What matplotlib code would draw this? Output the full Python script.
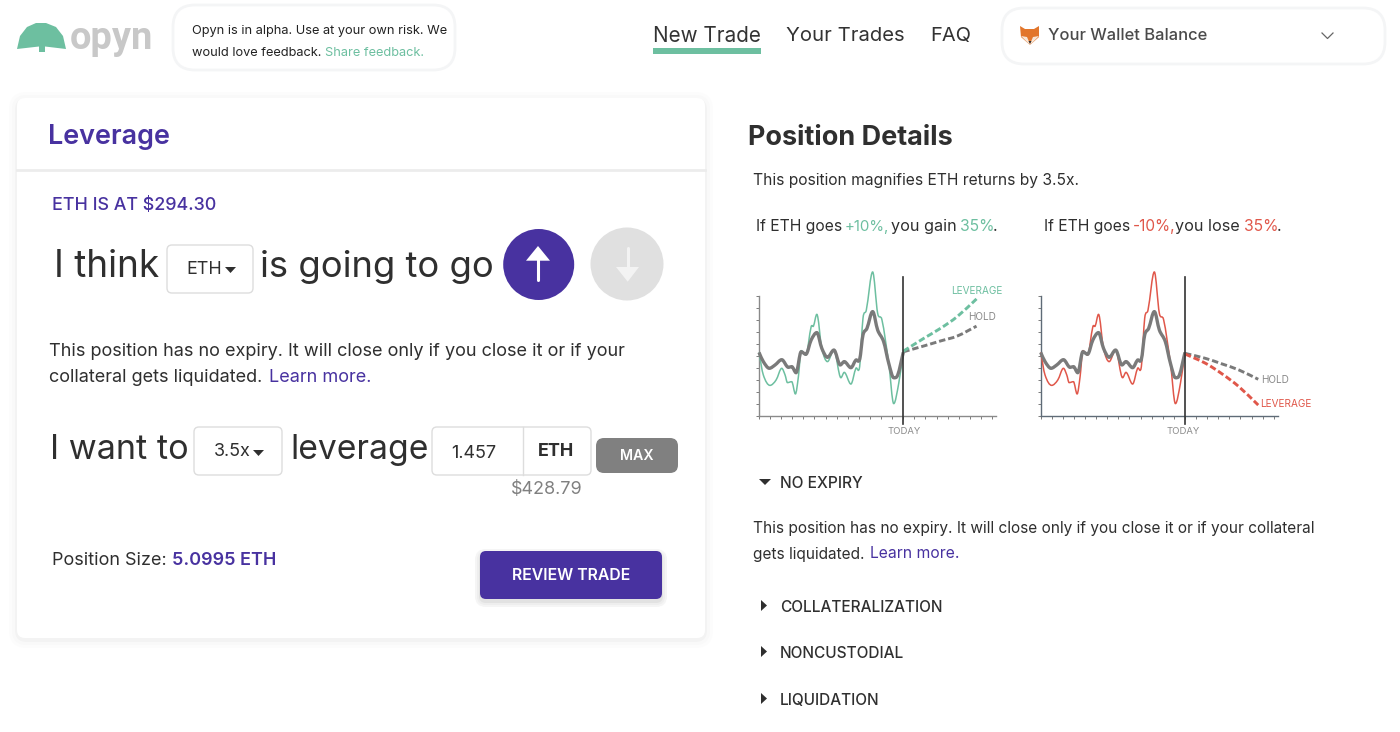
import matplotlib
matplotlib.use("Agg")
import matplotlib.pyplot as plt
from matplotlib.patches import FancyBboxPatch, Circle, Polygon, Rectangle, PathPatch
from matplotlib.path import Path

plt.rcParams['font.family'] = ['Inter', 'DejaVu Sans']

# ---- chart data (x: tick number, y: tick number) ----
hold_x = [0.0, 0.39, 0.93, 1.45, 2.05, 2.65, 2.95, 3.34, 3.8, 4.22, 4.7, 5.21, 5.66, 6.17, 6.75,
          7.32, 7.68, 8.28, 8.73, 9.07, 9.37, 9.73, 10.24, 10.69, 11.23, 11.69, 12.14, 12.5, 13.0]
hold_hist = [5.3, 4.53, 3.97, 4.25, 4.69, 4.05, 4.11, 3.6, 5.36, 5.14, 6.34, 6.96, 5.64, 4.89, 5.5,
             4.25, 4.53, 4.02, 4.66, 4.72, 6.76, 7.32, 8.72, 7.18, 6.2, 4.39, 3.18, 3.41, 5.3]
lev_x = [0.0, 0.39, 0.99, 1.54, 2.05, 2.35, 2.56, 2.95, 3.28, 3.55, 3.8, 4.22, 4.7, 4.91, 5.21, 5.66,
         6.17, 6.75, 7.38, 7.68, 8.28, 8.73, 9.07, 9.37, 9.67, 10.24, 10.69, 11.08, 11.69, 12.14, 12.59, 13.0]
lev_hist = [5.3, 3.41, 2.54, 2.99, 3.97, 3.41, 2.77, 2.85, 1.82, 3.27, 5.45, 5.08, 7.46, 7.51, 8.49, 5.64,
            4.53, 5.5, 3.18, 3.63, 2.65, 3.97, 4.11, 8.16, 8.85, 12.04, 8.58, 8.02, 4.39, 1.01, 2.71, 5.3]
future_x = [13.0, 14.85, 16.36, 17.86, 19.6]
up_lev = [5.4, 6.48, 7.32, 8.3, 9.78]
up_hold = [5.35, 5.84, 6.26, 6.67, 7.5]
down_lev = [5.17, 4.39, 3.49, 2.43, 0.89]
down_hold = [5.22, 4.8, 4.33, 3.83, 3.05]
x_ticks = list(range(0, 22))
y_ticks = list(range(0, 11))

GREEN = '#6dbfa0'
RED = '#e0574a'
GRAY = '#7a7a7a'
PURPLE = '#4832a0'
DARK = '#2f2f2f'
W, H = 1400, 732
DY = 2


def px(size):
    return size * 0.72


fig = plt.figure(figsize=(14, 7.32), dpi=100, facecolor='white')
ui = fig.add_axes([0, 0, 1, 1])
ui.set_xlim(0, W)
ui.set_ylim(H, 0)
ui.axis('off')


def text(x, y, s, size, color=DARK, weight='normal', ha='left', family=None):
    kw = {'family': family} if family else {}
    return ui.text(x, y + DY, s, fontsize=px(size), color=color, fontweight=weight, ha=ha, va='center', **kw)


def line_text(x, y, s, size, color=DARK):
    return ui.text(x, y, s, fontsize=px(size), color=color, ha='left', va='baseline')


def box(x0, y0, x1, y1, r, fc='white', ec='none', lw=1.0, z=2):
    p = FancyBboxPatch((x0 + r, y0 + r), x1 - x0 - 2 * r, y1 - y0 - 2 * r,
                       boxstyle=f'round,pad={r},rounding_size={r}', fc=fc, ec=ec, lw=lw, zorder=z)
    ui.add_patch(p)
    return p


def poly(points, fc, z=3):
    ui.add_patch(Polygon(points, closed=True, fc=fc, ec='none', zorder=z))


# ---- header ----
poly([(17, 49), (20, 36), (27, 27), (36, 23), (46, 23), (56, 27), (63, 36), (66, 49),
      (45, 46.5), (45, 52), (39, 52), (39, 46.5)], GREEN)
text(70, 36.5, 'opyn', 38, '#c8c8c8', 'bold', family=['Roboto', 'DejaVu Sans'])
box(173, 5, 455, 70, 22, ec='#f4f5f6', lw=2)
text(192, 29, 'Opyn is in alpha. Use at your own risk. We', 12.8, '#222222')
text(192, 51, 'would love feedback.', 12.8, '#222222')
text(325, 51, 'Share feedback.', 12.8, GREEN)
text(653, 34, 'New Trade', 20.7, '#333333')
ui.add_patch(Rectangle((653, 48), 108, 6, fc=GREEN, ec='none', zorder=3))
text(786, 34, 'Your Trades', 20.3, '#333333')
text(930, 34, 'FAQ', 20, '#333333')
box(1002, 8, 1385, 64, 22, ec='#f4f5f6', lw=2)
poly([(1020, 26), (1025, 29), (1034, 29), (1039, 26), (1039, 37), (1030, 45), (1021, 37)], '#e2762c')
poly([(1021, 36), (1027, 37), (1030, 44), (1033, 37), (1039, 36), (1030, 45)], '#f6e6d8', 4)
poly([(1028.5, 41), (1031.5, 41), (1030, 44)], '#33302e', 5)
text(1048, 34, 'Your Wallet Balance', 16.5, '#4a4a4a', 'medium')
ui.plot([1322, 1327.5, 1333], [33, 38.5, 33], color='#666666', lw=0.9)

# ---- left card ----
for grow, col in [(8, '#fcfcfc'), (5, '#f9f9f9'), (2, '#f3f3f3')]:
    box(17 - grow, 98 - grow + 2, 705 + grow, 638 + grow + 2, 10 + grow, fc=col, z=1)
box(17, 98, 705, 638, 8)
ui.plot([17, 705], [170, 170], color='#ececec', lw=2, zorder=3)
text(48.5, 135, 'Leverage', 27, PURPLE, 'semibold')
text(52, 203, 'ETH IS AT $294.30', 17.9, PURPLE, 'medium')

text(54, 265, 'I think', 37, DARK)
box(167, 245, 253, 293, 5, ec='#dddddd')
text(186, 268, 'ETH', 18, DARK)
poly([(225, 267), (236, 267), (230.5, 273)], DARK)
text(260, 265, 'is going to go', 36.4, DARK)
ui.add_patch(Circle((538.7, 264.5), 35.5, fc=PURPLE, ec='none', zorder=3))
ui.add_patch(Circle((627, 264), 36.5, fc='#e0e0e0', ec='none', zorder=3))
poly([(526, 260.7), (538, 246), (550, 260.7)], 'white', 4)
ui.plot([537.8, 537.8], [258, 280], color='white', lw=2.2, solid_capstyle='round', zorder=4)
poly([(616, 267), (627.7, 281.7), (639, 267)], '#f3f3f3', 4)
ui.plot([627.5, 627.5], [247.5, 270], color='#f3f3f3', lw=2.2, solid_capstyle='round', zorder=4)

text(49, 349, 'This position has no expiry. It will close only if you close it or if your', 18.1, DARK)
text(49, 376, 'collateral gets liquidated.', 18.1, DARK)
text(269, 376, 'Learn more.', 18.1, PURPLE)

text(50, 448, 'I want to', 34.2, DARK)
box(194, 427, 282, 475, 5, ec='#dddddd')
text(214, 450, '3.5x', 18, DARK)
poly([(253, 450), (264, 450), (258.5, 456)], DARK)
text(290, 448, 'leverage', 33.6, DARK)
box(432, 427, 591, 475, 5, ec='#dddddd')
ui.plot([522.5, 522.5], [427, 475], color='#dddddd', lw=1, zorder=3)
text(451, 451, '1.457', 18, DARK)
text(538, 449.5, 'ETH', 18, DARK, 'bold')
box(596, 438, 678, 473, 8, fc='#808080')
text(637, 454.5, 'MAX', 14.2, 'white', 'semibold', ha='center')
text(511, 487, '$428.79', 18, '#808080')
text(52, 558.5, 'Position Size:', 18, DARK)
text(172, 558.5, '5.0995 ETH', 18, PURPLE, 'semibold')
for grow, col in [(5, '#f5f5f5'), (3, '#eeeeee'), (1, '#e2e2e2')]:
    box(480 - grow, 551 - grow + 3, 662 + grow, 599 + grow + 3, 6 + grow, fc=col, z=3)
box(480, 551, 662, 599, 6, fc=PURPLE, z=4)
ui.text(571, 576, 'REVIEW TRADE', fontsize=px(15.8), color='white', fontweight='semibold',
        ha='center', va='center', zorder=5)

# ---- right column ----
text(748, 136, 'Position Details', 27, DARK, 'bold')
text(753, 178, 'This position magnifies ETH returns by 3.5x.', 15.6, DARK)
line_text(756, 231, 'If ETH goes', 15.7)
line_text(845, 231, '+10%,', 15.0, GREEN)
line_text(891, 231, 'you gain', 16.2)
line_text(960, 231, '35%', 15.7, GREEN)
line_text(993, 231, '.', 15.7)
line_text(1044, 231, 'If ETH goes', 15.7)
line_text(1133, 231, '-10%,', 15.4, RED)
line_text(1175, 231, 'you lose', 16.2)
line_text(1244, 231, '35%', 15.7, RED)
line_text(1277, 231, '.', 15.7)

poly([(759, 479), (771, 479), (765, 485)], DARK)
text(780, 482, 'NO EXPIRY', 15.5, DARK, 'medium')
text(753, 526, 'This position has no expiry. It will close only if you close it or if your collateral', 15.45, DARK)
text(753, 552, 'gets liquidated.', 15.45, DARK)
text(870, 552, 'Learn more.', 15.7, PURPLE)
for yy, lab in [(606, 'COLLATERALIZATION'), (652, 'NONCUSTODIAL'), (699, 'LIQUIDATION')]:
    poly([(761, yy - 6), (761, yy + 5), (767, yy - 0.5)], DARK)
    text(780, yy - 0.5, lab, 15.4, DARK, 'medium')


def smooth_path(xs, ys):
    """Bezier path through the read points (Catmull-Rom tangents, flattened at turning points)."""
    n = len(xs)
    tang = []
    for i in range(n):
        a, b = max(i - 1, 0), min(i + 1, n - 1)
        m = (ys[b] - ys[a]) / (xs[b] - xs[a])
        if 0 < i < n - 1 and (ys[i] - ys[a]) * (ys[b] - ys[i]) <= 0:
            m = 0.0
        tang.append(m)
    verts = [(xs[0], ys[0])]
    codes = [Path.MOVETO]
    for i in range(n - 1):
        d = (xs[i + 1] - xs[i]) / 3
        verts += [(xs[i] + d, ys[i] + tang[i] * d), (xs[i + 1] - d, ys[i + 1] - tang[i + 1] * d),
                  (xs[i + 1], ys[i + 1])]
        codes += [Path.CURVE4] * 3
    return Path(verts, codes)


def curve(ax, xs, ys, color, lw, z, ls='-'):
    ax.add_patch(PathPatch(smooth_path(xs, ys), fc='none', ec=color, lw=lw, ls=ls, clip_on=False,
                           joinstyle='round', zorder=z))


# ---- the two small charts ----
def small_chart(left, lev_color, fut_lev, fut_hold, axis_color):
    x0, x1 = left, left + 237.5
    y_bottom, y_top = 415.7, 296.3
    ax = fig.add_axes([x0 / W, 1 - y_bottom / H, (x1 - x0) / W, (y_bottom - y_top) / H])
    ax.patch.set_alpha(0)
    ax.set_xlim(0, 21.4)
    ax.set_ylim(0, 10)
    for s in ('top', 'right'):
        ax.spines[s].set_visible(False)
    for s in ('left', 'bottom'):
        ax.spines[s].set_color(axis_color)
        ax.spines[s].set_linewidth(1.0)
    ax.set_xticks(x_ticks)
    ax.set_yticks(y_ticks)
    ax.tick_params(length=2.2, width=0.6, color='#666666', labelbottom=False, labelleft=False)
    curve(ax, lev_x, lev_hist, lev_color, 1.1, 3)
    curve(ax, hold_x, hold_hist, GRAY, 2.4, 4)
    curve(ax, future_x, fut_hold, GRAY, 2.1, 4, ls=(0, (2.2, 1.0)))
    curve(ax, future_x, fut_lev, lev_color, 2.1, 4, ls=(0, (2.2, 1.0)))
    ax.plot([13, 13], [-0.7, 11.6], color='#333333', lw=1.2, clip_on=False, zorder=5)
    return ax


small_chart(759, GREEN, up_lev, up_hold, '#8a8a8a')
small_chart(1040.7, RED, down_lev, down_hold, '#5f6b77')
text(904, 430, 'TODAY', 9.5, '#8a8a8a', ha='center')
text(1183, 430, 'TODAY', 9.5, '#8a8a8a', ha='center')
text(951, 289, 'LEVERAGE', 10.0, GREEN)
text(968, 315, 'HOLD', 10.0, '#8a8a8a')
text(1261, 378, 'HOLD', 10.0, '#8a8a8a')
text(1260, 402, 'LEVERAGE', 10.0, RED)

fig.savefig('out.png', dpi=100, facecolor='white')
